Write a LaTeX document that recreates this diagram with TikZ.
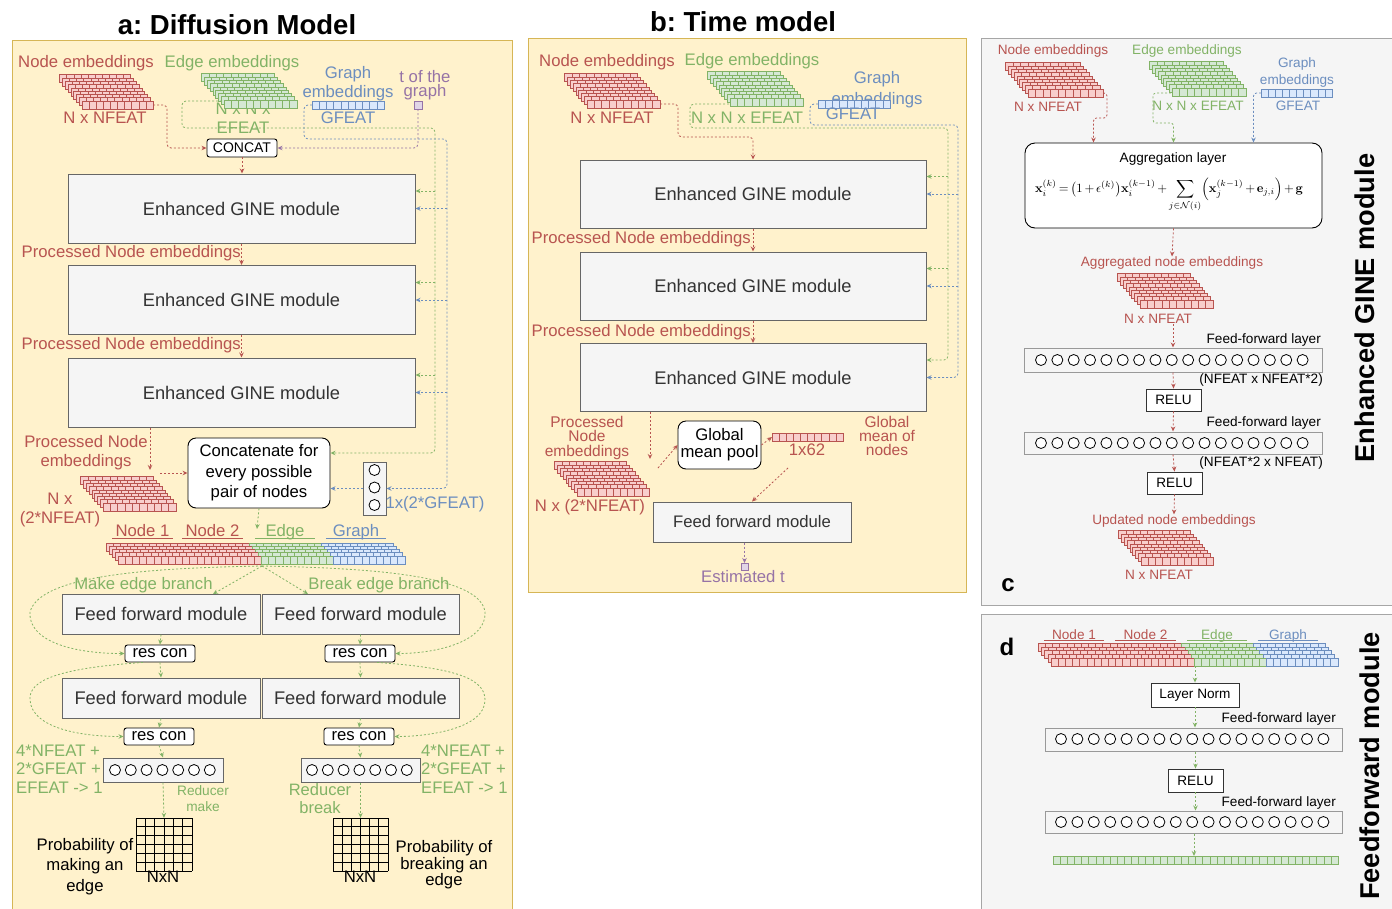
\documentclass[tikz,border=0pt]{standalone}
\usepackage[no-math]{fontspec}
\setmainfont{Liberation Sans}
\usetikzlibrary{arrows.meta, positioning, calc}
\definecolor{redline}{HTML}{B85450}
\definecolor{redfill}{HTML}{F8CECC}
\definecolor{greenline}{HTML}{82B366}
\definecolor{greenfill}{HTML}{D5E8D4}
\definecolor{blueline}{HTML}{6C8EBF}
\definecolor{bluefill}{HTML}{DAE8FC}
\definecolor{purpleline}{HTML}{9673A6}
\definecolor{purplefill}{HTML}{E1D5E7}
\definecolor{panelyellow}{HTML}{FFF2CC}
\definecolor{panelborder}{HTML}{D6B656}
\definecolor{panelgrey}{HTML}{A6A6A6}
\definecolor{boxgray}{HTML}{F5F5F5}
\definecolor{boxline}{HTML}{666666}
\definecolor{layerline}{HTML}{999999}
\definecolor{textdark}{HTML}{333333}

\newcommand{\lblfont}{\fontsize{16.7}{19}\selectfont}
\newcommand{\modfont}{\fontsize{18.3}{21}\selectfont}
\newcommand{\smlfont}{\fontsize{13.6}{16}\selectfont}

% stack of embedding rows: x, y of front row, rows, cells, cell width, style
\newcommand{\embstack}[6]{%
  \foreach \row in {#3,...,1}{%
    \foreach \col in {1,...,#4}{%
      \draw[#6] ({#1-(\row-1)*2.8+(\col-1)*#5},{#2-(\row-1)*3.3}) rectangle ++(#5,8);
    }%
  }%
}
% node 1 | node 2 | edge | graph stack: x, y, rows, cell width, dx, dy
\newcommand{\pairstack}[6]{%
  \foreach \row in {#3,...,1}{%
    \foreach \col in {1,...,20}{\draw[redcell] ({#1-(\row-1)*#5+(\col-1)*#4},{#2-(\row-1)*#6}) rectangle ++(#4,8);}
    \foreach \col in {21,...,30}{\draw[greencell] ({#1-(\row-1)*#5+(\col-1)*#4},{#2-(\row-1)*#6}) rectangle ++(#4,8);}
    \foreach \col in {31,...,40}{\draw[bluecell] ({#1-(\row-1)*#5+(\col-1)*#4},{#2-(\row-1)*#6}) rectangle ++(#4,8);}
  }%
}

\begin{document}
\frenchspacing
\begin{tikzpicture}[x=1pt, y=-1pt,
    panel/.style={draw=panelborder, fill=panelyellow, line width=1pt},
    greypanel/.style={draw=panelgrey, fill=boxgray, line width=1pt},
    title/.style={font=\bfseries\fontsize{27.5}{30}\selectfont, inner sep=0pt},
    sidetitle/.style={font=\bfseries\fontsize{27.2}{30}\selectfont, rotate=90, inner sep=0pt},
    panelid/.style={font=\bfseries\fontsize{24}{26}\selectfont, inner sep=0pt},
    lbl/.style={font=\lblfont, inner sep=0pt, align=center},
    redlbl/.style={lbl, text=redline},
    greenlbl/.style={lbl, text=greenline},
    bluelbl/.style={lbl, text=blueline},
    purplelbl/.style={lbl, text=purpleline},
    ulbl/.style={inner xsep=0pt, inner ysep=2pt, text height=12pt, text depth=0pt, minimum width=60pt},
    module/.style={draw=boxline, fill=boxgray, text=textdark, font=\modfont, inner sep=0pt, line width=1pt},
    tag/.style={draw=black, fill=white, rounded corners=2.5pt, inner sep=0pt, font=\lblfont, align=center, line width=0.9pt},
    relubox/.style={draw=textdark, fill=white, inner sep=0pt, font=\smlfont, line width=0.9pt},
    layer/.style={draw=layerline, fill=boxgray, inner sep=0pt, line width=1pt},
    vecbox/.style={draw=boxline, fill=boxgray, inner sep=0pt, line width=1pt},
    neuron/.style={draw=black, fill=white, line width=0.8pt},
    gridline/.style={draw=black, line width=0.9pt},
    redcell/.style={draw=redline, fill=redfill, line width=0.5pt},
    greencell/.style={draw=greenline, fill=greenfill, line width=0.5pt},
    bluecell/.style={draw=blueline, fill=bluefill, line width=0.5pt},
    purplecell/.style={draw=purpleline, fill=purplefill, line width=0.6pt},
    arr/.style={line width=0.8pt, dash pattern=on 2pt off 2pt, -{Stealth[open, length=5pt, width=4.5pt]}},
    redarr/.style={arr, draw=redline},
    greenarr/.style={arr, draw=greenline},
    bluearr/.style={arr, draw=blueline},
    purplearr/.style={arr, draw=purpleline}
  ]
  \useasboundingbox (0,0) rectangle (1392,908);

  % panels
  \draw[panel] (12,40) rectangle (512,915);
  \draw[panel] (528,38) rectangle (966,592);
  \draw[greypanel] (981,38) rectangle (1400,605);
  \draw[greypanel] (981,614) rectangle (1400,915);

  % ---------------- a: diffusion model
  \node[title] (titlea) at (237,25) {a: Diffusion Model};
  \node[redlbl] (nodelbla) at (86,63) {Node embeddings};
  \embstack{82}{101}{9}{10}{7.1}{redcell}
  \coordinate (nodeouta) at (153,105);
  \node[redlbl] (nfeata) at (105,118) {N x NFEAT};
  \node[greenlbl] (edgelbla) at (232,63) {Edge embeddings};
  \node[greenlbl] (efeata) at (243,118) {N x N x\\EFEAT};
  \embstack{224}{100}{9}{10}{7.3}{greencell}
  \coordinate (edgeouta) at (222,101);
  \node[bluelbl] (graphlbla) at (348,83.5) {Graph\\embeddings};
  \embstack{312}{101}{1}{10}{7.2}{bluecell}
  \coordinate (graphouta) at (312,105);
  \node[bluelbl] (gfeata) at (348,118) {GFEAT};
  \node[purplelbl, font=\fontsize{16.7}{14}\selectfont] (tlbla) at (425,85) {t of the\\graph};
  \draw[purplecell] (414,101) rectangle ++(8,8);
  \coordinate (touta) at (418,109);
  \node[tag, minimum width=70pt, minimum height=18pt, font=\fontsize{14}{16}\selectfont] (concat) at (242,148) {CONCAT};

  \node[module, minimum width=347pt, minimum height=69pt] (ginea1) at (241.5,208.5) {Enhanced GINE module};
  \node[module, minimum width=347pt, minimum height=69pt] (ginea2) at (241.5,300) {Enhanced GINE module};
  \node[module, minimum width=347pt, minimum height=69pt] (ginea3) at (241.5,392.5) {Enhanced GINE module};
  \node[redlbl, anchor=east] (proca1) at (241,253) {Processed Node embeddings};
  \node[redlbl, anchor=east] (proca2) at (241,345) {Processed Node embeddings};

  \node[tag, rounded corners=8pt, minimum width=142pt, minimum height=70pt, font=\fontsize{16.7}{20.5}\selectfont] (pairs) at (259,473) {Concatenate for\\every possible\\pair of nodes};
  \node[vecbox, minimum width=23pt, minimum height=53pt] (gvec) at (374.5,488.5) {};
  \foreach \k in {0,1,2} \draw[neuron] (374.5,{470+17.5*\k}) circle (5.5pt);
  \node[bluelbl] (gvecl) at (435,504) {1x(2*GFEAT)};

  \node[redlbl] (proca3) at (86,452.5) {Processed Node\\embeddings};
  \coordinate (procina) at (150,470);
  \embstack{103}{503}{9}{10}{7.3}{redcell}
  \coordinate (procouta) at (160,473);
  \node[redlbl] (nfeat2a) at (60,510) {N x\\(2*NFEAT)};

  \node[redlbl, ulbl] (node1a) at (142.5,530) {Node 1};
  \node[redlbl, ulbl] (node2a) at (212.5,530) {Node 2};
  \node[greenlbl, ulbl] (edgea) at (285,530) {Edge};
  \node[bluelbl, ulbl] (grapha) at (356,530) {Graph};
  \draw[redline, line width=0.8pt] (node1a.south west) -- (node1a.south east);
  \draw[redline, line width=0.8pt] (node2a.south west) -- (node2a.south east);
  \draw[greenline, line width=0.8pt] (edgea.south west) -- (edgea.south east);
  \draw[blueline, line width=0.8pt] (grapha.south west) -- (grapha.south east);
  \pairstack{118}{556}{5}{7.17}{3}{3.3}
  \coordinate (pairin) at (257,529);
  \coordinate (pairout) at (262,566);

  \node[greenlbl] (makelbl) at (143.5,585) {Make edge branch};
  \node[greenlbl] (breaklbl) at (379,585) {Break edge branch};
  \coordinate (makein) at (213,594);
  \coordinate (breakin) at (308,594);
  \node[module, minimum width=198pt, minimum height=40pt] (ffmake1) at (161,614) {Feed forward module};
  \node[module, minimum width=197pt, minimum height=40pt] (ffbreak1) at (360.5,614) {Feed forward module};
  \node[module, minimum width=198pt, minimum height=40pt] (ffmake2) at (161,698) {Feed forward module};
  \node[module, minimum width=197pt, minimum height=40pt] (ffbreak2) at (360.5,698) {Feed forward module};
  \node[tag, minimum width=70pt, minimum height=17pt] (resmake1) at (160,653.5) {res con};
  \node[tag, minimum width=70pt, minimum height=17pt] (resbreak1) at (360,653.5) {res con};
  \node[tag, minimum width=70pt, minimum height=17pt] (resmake2) at (159,736.5) {res con};
  \node[tag, minimum width=70pt, minimum height=17pt] (resbreak2) at (359,736.5) {res con};

  \node[vecbox, minimum width=120pt, minimum height=24pt] (redmake) at (163,770) {};
  \foreach \k in {0,...,6} \draw[neuron] ({115+15.8*\k},770) circle (5.5pt);
  \node[vecbox, minimum width=119pt, minimum height=24pt] (redbreak) at (360.5,770) {};
  \foreach \k in {0,...,6} \draw[neuron] ({312+15.8*\k},770) circle (5.5pt);
  \node[greenlbl, anchor=west, align=left, font=\fontsize{16.7}{18.5}\selectfont] (sizemake) at (16,769) {4*NFEAT +\\2*GFEAT +\\EFEAT -> 1};
  \node[greenlbl, anchor=west, align=left, font=\fontsize{16.7}{18.5}\selectfont] (sizebreak) at (421,769) {4*NFEAT +\\2*GFEAT +\\EFEAT -> 1};
  \node[greenlbl, font=\fontsize{13.7}{16.5}\selectfont] (redmakel) at (203,798.5) {Reducer\\make};
  \node[greenlbl, font=\fontsize{16.5}{18}\selectfont] (redbreakl) at (320,799) {Reducer\\break};

  \node[inner sep=0pt, minimum width=56pt, minimum height=53pt] (probmake) at (164,844.5) {};
  \node[inner sep=0pt, minimum width=55pt, minimum height=53pt] (probbreak) at (360.5,844.5) {};
  \foreach \k in {0,...,6} {
    \draw[gridline] ({136+\k*56/6},818) -- ++(0,53);
    \draw[gridline] (136,{818+\k*53/6}) -- ++(56,0);
    \draw[gridline] ({333+\k*55/6},818) -- ++(0,53);
    \draw[gridline] (333,{818+\k*53/6}) -- ++(55,0);
  }
  \node[lbl] (nnmake) at (163,877) {NxN};
  \node[lbl] (nnbreak) at (360,877) {NxN};
  \node[lbl, font=\fontsize{16.7}{20.5}\selectfont] (probmakel) at (85,866.5) {Probability of\\making an\\edge};
  \node[lbl, font=\fontsize{16.7}{15}\selectfont] (probbreakl) at (444,865) {Probability of\\breaking an\\edge};

  % connectors a
  \coordinate (gbusa) at (435,128);
  \coordinate (bbusa) at (447,139);
  \coordinate (pairgin) at ([yshift=20pt]pairs.east);
  \draw[redarr, rounded corners=4pt] (nodeouta) -- ++(14,0) |- (concat.west);
  \draw[purplearr, rounded corners=4pt] (touta) |- (concat.east);
  \draw[greenarr, rounded corners=4pt] (edgeouta) -| (182,128) -- (gbusa) |- (pairgin);
  \draw[bluearr, rounded corners=4pt] (graphouta) -| (304,139) -- (bbusa) |- (gvec.east);
  \foreach \m in {ginea1,ginea2,ginea3} {
    \coordinate (gin) at ([yshift=17.5pt]\m.east);
    \draw[greenarr] (gin -| gbusa) -- (gin);
    \draw[bluearr] (\m.east -| bbusa) -- (\m.east);
  }
  \draw[bluearr] (gvec.west) -- (gvec.west -| pairs.east);
  \draw[redarr] (concat.south) -- (concat.south |- ginea1.north);
  \draw[redarr] (ginea1.south) -- (ginea2.north);
  \draw[redarr] (ginea2.south) -- (ginea3.north);
  \draw[redarr] (ginea3.south -| procina) -- (procina);
  \draw[redarr] (procouta) -- (procouta -| pairs.west);
  \draw[greenarr] (pairs.south) -- (pairin);
  \draw[greenarr] (pairout) -- (makein);
  \draw[greenarr] (pairout) -- (breakin);
  \draw[greenarr] (pairout) .. controls (150,568) and (40,575) .. (30,612) .. controls (28,640) and (70,653.5) .. (resmake1.west);
  \draw[greenarr] (pairout) .. controls (370,568) and (480,575) .. (485,612) .. controls (487,640) and (440,653.5) .. (resbreak1.east);
  \draw[greenarr] ([xshift=-17pt]resmake1.south) .. controls (60,668) and (28,680) .. (30,700) .. controls (32,728) and (80,736.5) .. (resmake2.west);
  \draw[greenarr] ([xshift=17pt]resbreak1.south) .. controls (460,668) and (485,680) .. (485,700) .. controls (485,728) and (430,736.5) .. (resbreak2.east);
  \draw[greenarr] (ffmake1.south) -- (resmake1.north);
  \draw[greenarr] (resmake1.south) -- (ffmake2.north);
  \draw[greenarr] (ffmake2.south) -- (resmake2.north);
  \draw[greenarr] (resmake2.south) -- (redmake.north);
  \draw[greenarr] (redmake.south) -- (probmake.north);
  \draw[greenarr] (ffbreak1.south) -- (resbreak1.north);
  \draw[greenarr] (resbreak1.south) -- (ffbreak2.north);
  \draw[greenarr] (ffbreak2.south) -- (resbreak2.north);
  \draw[greenarr] (resbreak2.south) -- (redbreak.north);
  \draw[greenarr] (redbreak.south) -- (probbreak.north);

  % ---------------- b: time model
  \node[title] (titleb) at (743,22) {b: Time model};
  \node[redlbl] (nodelblb) at (607,62) {Node embeddings};
  \embstack{587}{100}{9}{10}{7.3}{redcell}
  \coordinate (nodeoutb) at (660,104);
  \node[redlbl] (nfeatb) at (612,118) {N x NFEAT};
  \node[greenlbl] (edgelblb) at (752,61) {Edge embeddings};
  \embstack{730}{98}{9}{10}{7.3}{greencell}
  \coordinate (edgeoutb) at (729,104);
  \node[greenlbl] (efeatb) at (747,118) {N x N x EFEAT};
  \node[bluelbl, font=\fontsize{16.7}{21}\selectfont] (graphlblb) at (877,89.5) {Graph\\embeddings};
  \embstack{818}{100}{1}{10}{7.2}{bluecell}
  \coordinate (graphoutb) at (818,104);
  \node[bluelbl] (gfeatb) at (853,114) {GFEAT};

  \node[module, minimum width=346pt, minimum height=68pt] (gineb1) at (753,194) {Enhanced GINE module};
  \node[module, minimum width=346pt, minimum height=68pt] (gineb2) at (753,286) {Enhanced GINE module};
  \node[module, minimum width=346pt, minimum height=68pt] (gineb3) at (753,377.5) {Enhanced GINE module};
  \node[redlbl, anchor=east] (procb1) at (751,239) {Processed Node embeddings};
  \node[redlbl, anchor=east] (procb2) at (751,332) {Processed Node embeddings};

  \node[redlbl, font=\fontsize{15.5}{14.5}\selectfont] (procb3) at (587,437.5) {Processed\\Node\\embeddings};
  \coordinate (procinb) at (650,459);
  \embstack{577}{488}{9}{10}{7.2}{redcell}
  \coordinate (procoutb) at (658,468);
  \node[redlbl] (nfeat2b) at (590,507) {N x (2*NFEAT)};
  \node[tag, rounded corners=8pt, minimum width=83pt, minimum height=48pt, font=\fontsize{16.7}{17}\selectfont] (pool) at (719.5,445) {Global\\mean pool};
  \embstack{772}{433}{1}{10}{7.1}{redcell}
  \coordinate (meanin) at (772,437);
  \coordinate (meanout) at (788,468);
  \node[redlbl] (meanl) at (807,450) {1x62};
  \node[redlbl, font=\fontsize{15.5}{14}\selectfont] (meanlbl) at (887,435.5) {Global\\mean of\\nodes};
  \node[module, minimum width=198pt, minimum height=40pt, font=\lblfont] (fft) at (752,522) {Feed forward module};
  \draw[purplecell] (741,563) rectangle ++(7,7);
  \coordinate (tin) at (744.5,563);
  \node[purplelbl] (estt) at (743,577) {Estimated t};

  % connectors b
  \coordinate (gbusb) at (948,128);
  \coordinate (bbusb) at (958,125);
  \coordinate (ginb3) at ([yshift=17.5pt]gineb3.east);
  \draw[redarr, rounded corners=4pt] (nodeoutb) -| (678,137) -| (gineb1.north);
  \draw[greenarr, rounded corners=4pt] (edgeoutb) -| (690,128) -- (gbusb) |- (ginb3);
  \draw[bluearr, rounded corners=4pt] (graphoutb) -| (810,125) -- (bbusb) |- (gineb3.east);
  \foreach \m in {gineb1,gineb2} {
    \coordinate (gin) at ([yshift=17.5pt]\m.east);
    \draw[greenarr] (gin -| gbusb) -- (gin);
    \draw[bluearr] (\m.east -| bbusb) -- (\m.east);
  }
  \draw[redarr] (gineb1.south) -- (gineb2.north);
  \draw[redarr] (gineb2.south) -- (gineb3.north);
  \draw[redarr] (gineb3.south -| procinb) -- (procinb);
  \draw[redarr] (procoutb) -- (pool.west);
  \draw[redarr] (pool.east) -- (meanin);
  \draw[redarr] (meanout) -- (fft.north);
  \draw[purplearr] (fft.south -| tin) -- (tin);

  % ---------------- c: enhanced GINE module
  \node[redlbl, font=\smlfont] (nodelblc) at (1053,51) {Node embeddings};
  \embstack{1028}{89}{9}{10}{7.5}{redcell}
  \coordinate (nodeoutc) at (1103,93);
  \node[redlbl, font=\smlfont] (nfeatc) at (1048,107) {N x NFEAT};
  \node[greenlbl, font=\smlfont] (edgelblc) at (1187,51) {Edge embeddings};
  \embstack{1172}{88}{9}{10}{7.4}{greencell}
  \coordinate (edgeoutc) at (1171,93);
  \node[greenlbl, font=\smlfont] (efeatc) at (1198,106) {N x N x EFEAT};
  \node[bluelbl, font=\fontsize{13.6}{17}\selectfont] (graphlblc) at (1297,72.5) {Graph\\embeddings};
  \embstack{1261}{89}{1}{10}{7.1}{bluecell}
  \coordinate (graphoutc) at (1261,93);
  \node[bluelbl, font=\smlfont] (gfeatc) at (1298,106) {GFEAT};

  \node[tag, rounded corners=10pt, minimum width=297pt, minimum height=85pt] (agg) at (1173.5,185.5) {};
  \node[font=\smlfont, inner sep=0pt] (agglbl) at (1173,159) {Aggregation layer};
  \node[inner sep=0pt] (aggeq) at (1169,195)
    {\resizebox{268pt}{!}{$\thinmuskip=2mu \medmuskip=2.5mu \thickmuskip=3mu \displaystyle \mathbf{x}_i^{(k)} = \bigl(1+\epsilon^{(k)}\bigr)\mathbf{x}_i^{(k-1)} + \sum_{j\in\mathcal{N}(i)} \Bigl(\mathbf{x}_j^{(k-1)}+\mathbf{e}_{j,i}\Bigr)+\mathbf{g}$}};
  \draw[redarr, rounded corners=3pt] (nodeoutc) -| (1107,118) -| ([xshift=-80pt]agg.north);
  \draw[greenarr, rounded corners=3pt] (edgeoutc) -| (1153,123) -| (agg.north);
  \draw[bluearr, rounded corners=3pt] (graphoutc) -| ([xshift=80pt]agg.north);

  \node[redlbl, font=\smlfont] (aggnl) at (1172,263) {Aggregated node embeddings};
  \embstack{1140}{300}{9}{10}{7.3}{redcell}
  \node[redlbl, font=\smlfont] (nfeatc2) at (1158,319) {N x NFEAT};
  \node[layer, minimum width=298pt, minimum height=24pt] (ffc1) at (1173,360) {};
  \foreach \k in {0,...,16} \draw[neuron] ({1041+16.35*\k},360) circle (5.5pt);
  \node[font=\smlfont, anchor=east, inner sep=0pt] (ffc1l) at (1321,340) {Feed-forward layer};
  \node[font=\smlfont, anchor=east, inner sep=0pt] (ffc1s) at (1323,380) {(NFEAT x NFEAT*2)};
  \node[relubox, minimum width=55pt, minimum height=22pt] (reluc1) at (1173.5,400) {RELU};
  \node[layer, minimum width=298pt, minimum height=22pt] (ffc2) at (1173,443) {};
  \foreach \k in {0,...,16} \draw[neuron] ({1041+16.35*\k},443) circle (5.5pt);
  \node[font=\smlfont, anchor=east, inner sep=0pt] (ffc2l) at (1321,423) {Feed-forward layer};
  \node[font=\smlfont, anchor=east, inner sep=0pt] (ffc2s) at (1323,463) {(NFEAT*2 x NFEAT)};
  \node[relubox, minimum width=55pt, minimum height=22pt] (reluc2) at (1174.5,483) {RELU};
  \node[redlbl, font=\smlfont] (updl) at (1174,521) {Updated node embeddings};
  \embstack{1141}{557}{9}{10}{7.2}{redcell}
  \node[redlbl, font=\smlfont] (nfeatc3) at (1159,575) {N x NFEAT};
  \node[panelid] (idc) at (1008,585) {c};
  \node[sidetitle] (sidec) at (1365,308) {Enhanced GINE module};

  \draw[redarr] (agg.south) -- (aggnl.north);
  \draw[redarr] (ffc1.north |- nfeatc2.south) -- (ffc1.north);
  \draw[redarr] (ffc1.south) -- (reluc1.north);
  \draw[redarr] (reluc1.south) -- (ffc2.north);
  \draw[redarr] (ffc2.south) -- (reluc2.north);
  \draw[redarr] (reluc2.south) -- (updl.north);

  % ---------------- d: feedforward module
  \node[panelid] (idd) at (1007,647) {d};
  \node[redlbl, ulbl, font=\smlfont, text height=10pt, inner ysep=1.5pt] (node1d) at (1074,634) {Node 1};
  \node[redlbl, ulbl, font=\smlfont, text height=10pt, inner ysep=1.5pt] (node2d) at (1145.5,634) {Node 2};
  \node[greenlbl, ulbl, font=\smlfont, text height=10pt, inner ysep=1.5pt] (edged) at (1217,634) {Edge};
  \node[bluelbl, ulbl, font=\smlfont, text height=10pt, inner ysep=1.5pt] (graphd) at (1288,634) {Graph};
  \draw[redline, line width=0.8pt] (node1d.south west) -- (node1d.south east);
  \draw[redline, line width=0.8pt] (node2d.south west) -- (node2d.south east);
  \draw[greenline, line width=0.8pt] (edged.south west) -- (edged.south east);
  \draw[blueline, line width=0.8pt] (graphd.south west) -- (graphd.south east);
  \pairstack{1051}{658}{5}{7.17}{3.2}{3.7}
  \coordinate (pairoutd) at (1195,666);
  \node[relubox, minimum width=88pt, minimum height=24pt] (lnorm) at (1195,695) {Layer Norm};
  \node[font=\smlfont, anchor=east, inner sep=0pt] (ffd1l) at (1336,719) {Feed-forward layer};
  \node[layer, minimum width=297pt, minimum height=23pt] (ffd1) at (1193.5,739.5) {};
  \foreach \k in {0,...,16} \draw[neuron] ({1061+16.4*\k},739) circle (5.5pt);
  \node[relubox, minimum width=55pt, minimum height=23pt] (relud) at (1195.5,780.5) {RELU};
  \node[font=\smlfont, anchor=east, inner sep=0pt] (ffd2l) at (1336,803) {Feed-forward layer};
  \node[layer, minimum width=297pt, minimum height=22pt] (ffd2) at (1193.5,822) {};
  \foreach \k in {0,...,16} \draw[neuron] ({1061+16.4*\k},822) circle (5.5pt);
  \embstack{1053}{856}{1}{40}{7.125}{greencell}
  \coordinate (outd) at (1194,856);
  \node[sidetitle] (sided) at (1370,766) {Feedforward module};

  \draw[greenarr] (pairoutd) -- (lnorm.north);
  \draw[greenarr] (lnorm.south) -- (lnorm.south |- ffd1.north);
  \draw[greenarr] (ffd1.south -| relud.north) -- (relud.north);
  \draw[greenarr] (relud.south) -- (relud.south |- ffd2.north);
  \draw[greenarr] (ffd2.south -| outd) -- (outd);
\end{tikzpicture}
\end{document}
